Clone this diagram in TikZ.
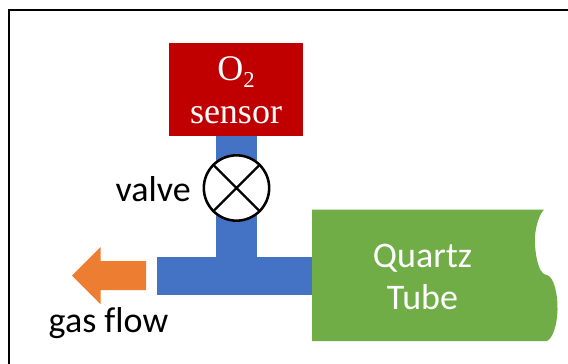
\documentclass[tikz,border=0pt]{standalone}
\usepackage{fontspec}
\setmainfont[Ligatures=NoCommon]{Carlito}
\newfontfamily\serifx{Liberation Serif}
\definecolor{pipeblue}{HTML}{4472C4}
\definecolor{sensred}{HTML}{C00000}
\definecolor{tubegreen}{HTML}{70AD47}
\definecolor{floworange}{HTML}{ED7D31}
\tikzset{
  lbl/.style={inner sep=0pt,align=center,font=\fontsize{27}{32}\selectfont},
  wlbl/.style={lbl,text=white},
  pipe/.style={fill=pipeblue,draw=none},
}
\begin{document}
\begin{tikzpicture}[x=0.75pt,y=-0.75pt]
\useasboundingbox (0,0) rectangle (568,364);
\fill[white] (0,0) rectangle (568,364);
\draw[line width=1.5pt] (9,364) -- (9,10) -- (568,10);
\fill[pipe] (215.5,130) rectangle (257,260);
\fill[pipe] (157,257) rectangle (315,294.5);
\node[fill=sensred,minimum width=100.5pt,minimum height=69.75pt,inner sep=0pt,anchor=north west] (sensor) at (169,43) {};
\node[wlbl,font=\fontsize{27}{32}\selectfont\serifx] (sensorlbl) at (236,90) {O\raisebox{-0.45ex}{\fontsize{17}{17}\selectfont 2}\\sensor};
\node[circle,draw=black,fill=white,line width=1.9pt,minimum size=49pt,inner sep=0pt] (valve) at (236.5,188) {};
\draw[line width=1.7pt] (valve.45) -- (valve.225) (valve.135) -- (valve.315);
\node[lbl,anchor=east] (valvelbl) at (191,189) {valve};
\fill[tubegreen] (312,209.5) -- (544,209.5)
  .. controls (537,217) and (534,235) .. (535,245)
  .. controls (536,261) and (540,275) .. (547,275)
  .. controls (554,277) and (558,295) .. (557.5,310)
  .. controls (557,325) and (553,338) .. (547,341)
  -- (312,341) -- cycle;
\node[wlbl] (tube) at (422.5,277) {Quartz\\Tube};
\fill[floworange] (146,261) -- (100.5,261) -- (100.5,247) -- (72,275.5) -- (100.5,304) -- (100.5,290) -- (146,290) -- cycle;
\node[lbl] (flow) at (108.5,323) {gas flow};
\end{tikzpicture}
\end{document}
